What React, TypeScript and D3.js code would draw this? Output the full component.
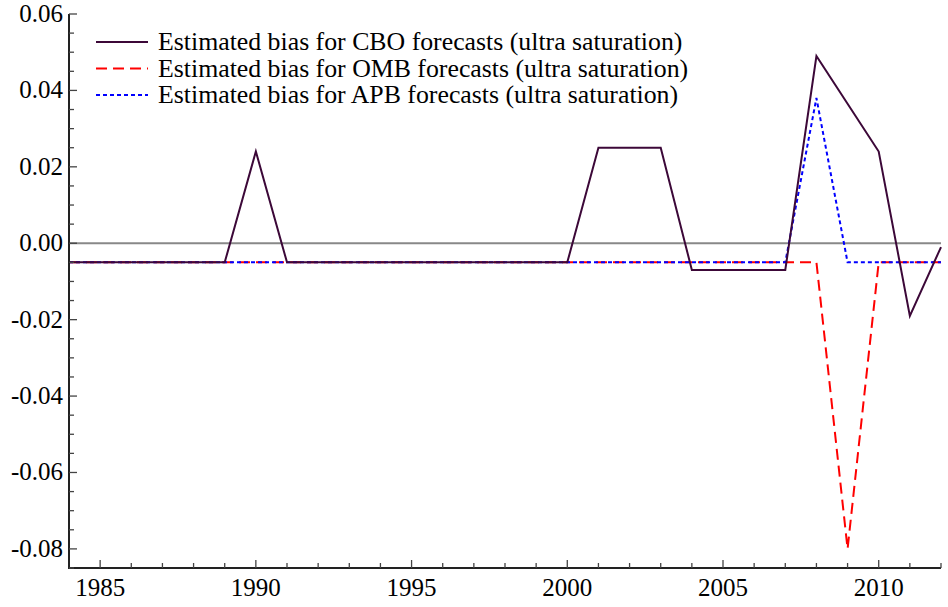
import { useEffect, useRef } from 'react'
import * as d3 from 'd3'

const years = d3.range(1984, 2013)

// values, one per year 1984..2012
const cboBias = [
  -0.005, -0.005, -0.005, -0.005, -0.005, -0.005, 0.024, -0.005, -0.005, -0.005,
  -0.005, -0.005, -0.005, -0.005, -0.005, -0.005, -0.005, 0.025, 0.025, 0.025,
  -0.007, -0.007, -0.007, -0.007, 0.049, 0.0365, 0.024, -0.019, -0.001,
]
const ombBias = [
  -0.005, -0.005, -0.005, -0.005, -0.005, -0.005, -0.005, -0.005, -0.005, -0.005,
  -0.005, -0.005, -0.005, -0.005, -0.005, -0.005, -0.005, -0.005, -0.005, -0.005,
  -0.005, -0.005, -0.005, -0.005, -0.005, -0.08, -0.005, -0.005, -0.005,
]
const apbBias = [
  -0.005, -0.005, -0.005, -0.005, -0.005, -0.005, -0.005, -0.005, -0.005, -0.005,
  -0.005, -0.005, -0.005, -0.005, -0.005, -0.005, -0.005, -0.005, -0.005, -0.005,
  -0.005, -0.005, -0.005, -0.005, 0.038, -0.005, -0.005, -0.005, -0.005,
]

const seriesNames = [
  'Estimated bias for CBO forecasts (ultra saturation)',
  'Estimated bias for OMB forecasts (ultra saturation)',
  'Estimated bias for APB forecasts (ultra saturation)',
]
const xTicks = [1985, 1990, 1995, 2000, 2005, 2010]
const yTicks = [-0.08, -0.06, -0.04, -0.02, 0, 0.02, 0.04, 0.06]

export default function App() {
  const ref = useRef<SVGSVGElement>(null)
  const W = 948
  const H = 607

  useEffect(() => {
    if (!ref.current) return
    const svg = d3.select(ref.current)
    svg.selectAll('*').remove()

    const font = 'Liberation Serif'
    const x = d3.scaleLinear().domain([1984, 2012]).range([69, 941])
    const y = d3.scaleLinear().domain([-0.085, 0.06]).range([568, 14])

    // zero line
    svg
      .append('line')
      .attr('x1', x(1984))
      .attr('x2', x(2012))
      .attr('y1', y(0))
      .attr('y2', y(0))
      .attr('stroke', '#888')
      .attr('stroke-width', 2)

    const series = [
      { values: ombBias, color: '#ff0000', dash: '11,6' },
      { values: apbBias, color: '#0000ff', dash: '4,3' },
      { values: cboBias, color: '#3c0838', dash: null as string | null },
    ]
    const line = d3
      .line<number>()
      .x((_, i) => x(years[i]))
      .y((d) => y(d))

    series.forEach((s) => {
      svg
        .append('path')
        .datum(s.values)
        .attr('d', line)
        .attr('fill', 'none')
        .attr('stroke', s.color)
        .attr('stroke-width', 2)
        .attr('stroke-dasharray', s.dash)
    })

    // axes
    svg
      .append('path')
      .attr('d', `M${x(1984)},${y(0.06)}V${y(-0.085)}H${x(2012)}`)
      .attr('fill', 'none')
      .attr('stroke', '#222')
      .attr('stroke-width', 2)

    // y ticks (inward)
    const yMinor = d3.range(-0.085, 0.0601, 0.005).map((v) => Math.round(v * 1000) / 1000)
    svg
      .append('g')
      .selectAll('line')
      .data(yMinor)
      .enter()
      .append('line')
      .attr('x1', x(1984))
      .attr('x2', (d) => x(1984) + (yTicks.some((t) => Math.abs(t - d) < 1e-9) ? 8 : 5))
      .attr('y1', (d) => y(d))
      .attr('y2', (d) => y(d))
      .attr('stroke', '#444')
      .attr('stroke-width', 1.3)

    svg
      .append('g')
      .selectAll('text')
      .data(yTicks)
      .enter()
      .append('text')
      .attr('x', 63)
      .attr('y', (d) => y(d) + 8)
      .attr('text-anchor', 'end')
      .attr('font-family', font)
      .attr('font-size', 25)
      .text((d) => d.toFixed(2))

    // x ticks (inward)
    svg
      .append('g')
      .selectAll('line')
      .data(years.slice(1))
      .enter()
      .append('line')
      .attr('x1', (d) => x(d))
      .attr('x2', (d) => x(d))
      .attr('y1', y(-0.085))
      .attr('y2', (d) => y(-0.085) - (d % 5 === 0 ? 8 : 5))
      .attr('stroke', '#444')
      .attr('stroke-width', 1.3)

    svg
      .append('g')
      .selectAll('text')
      .data(xTicks)
      .enter()
      .append('text')
      .attr('x', (d) => x(d))
      .attr('y', 596)
      .attr('text-anchor', 'middle')
      .attr('font-family', font)
      .attr('font-size', 25)
      .text((d) => d)

    // legend
    const legendColors = ['#3c0838', '#ff0000', '#0000ff']
    const legendDash = [null, '11,6', '4,3']
    const legend = svg.append('g')
    seriesNames.forEach((name, i) => {
      const ly = 42 + i * 26.5
      legend
        .append('line')
        .attr('x1', 96)
        .attr('x2', 148)
        .attr('y1', ly)
        .attr('y2', ly)
        .attr('stroke', legendColors[i])
        .attr('stroke-width', 2)
        .attr('stroke-dasharray', legendDash[i])
      legend
        .append('text')
        .attr('x', 158)
        .attr('y', ly + 8)
        .attr('font-family', font)
        .attr('font-size', 25.8)
        .text(name)
    })
  }, [])

  return (
    <svg
      ref={ref}
      width={W}
      height={H}
      style={{ position: 'absolute', left: 0, top: 0, background: '#fff' }}
    />
  )
}
